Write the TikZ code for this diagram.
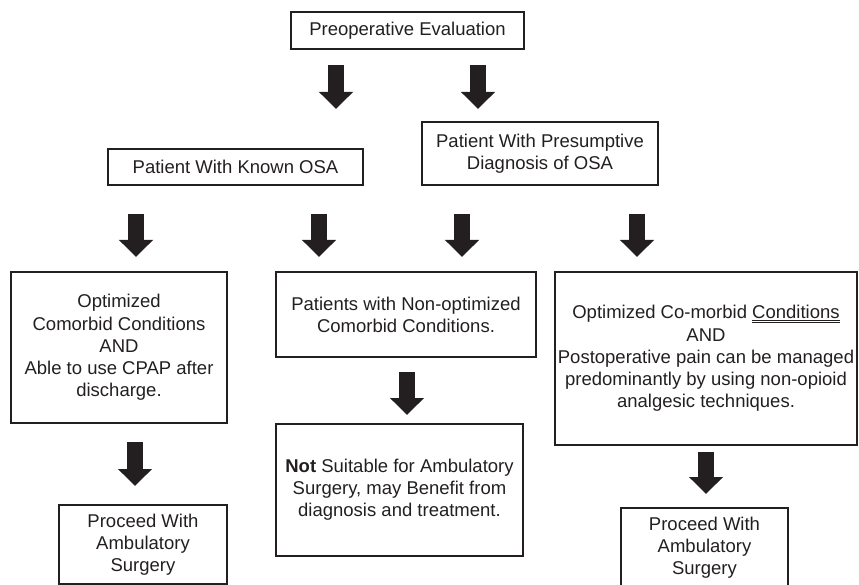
\documentclass[tikz,border=0pt]{standalone}
\usepackage{fontspec}
\setmainfont{Liberation Sans}
\usetikzlibrary{arrows.meta}
\definecolor{ink}{HTML}{231F20}
% double underline used for one word
\newcommand\dblunder[1]{\leavevmode\vtop{\hbox{#1}\kern1.2bp\hrule height .7bp\kern1.3bp\hrule height .7bp}}
\tikzset{
  flowbox/.style={draw=ink, line width=1.1bp, inner sep=0pt, align=center,
    text=ink, font=\fontsize{18.5bp}{22.2bp}\selectfont},
  blockarrow/.style={draw=ink, line width=16bp,
    -{Triangle[length=17bp, width=33bp]}},
}
\begin{document}
\begin{tikzpicture}[x=1bp, y=-1bp]
\useasboundingbox (0,0) rectangle (859,585);

% boxes
\node[flowbox, minimum width=233bp, minimum height=37bp] (pre) at (407.5,30.5) {Preoperative Evaluation};
\node[flowbox, minimum width=255bp, minimum height=36bp] (known) at (235.5,167) {Patient With Known OSA};
\node[flowbox, minimum width=236bp, minimum height=63bp] (pres) at (540,153.5) {Patient With Presumptive\\Diagnosis of OSA};
\node[flowbox, minimum width=216bp, minimum height=151bp] (opt) at (119,347.5) {Optimized\\Comorbid Conditions\\AND\\Able to use CPAP after\\discharge.};
\node[flowbox, minimum width=260bp, minimum height=85bp] (nonopt) at (406,314.5) {Patients with Non-optimized\\Comorbid Conditions.};
\node[flowbox, minimum width=302bp, minimum height=173bp] (comorb) at (706,358.5) {Optimized Co-morbid \dblunder{Conditions}\\AND\\Postoperative pain can be managed\\predominantly by using non-opioid\\analgesic techniques.};
\node[flowbox, minimum width=247bp, minimum height=132bp] (notsuit) at (399.5,490) {\textbf{Not} Suitable for Ambulatory\\Surgery, may Benefit from\\diagnosis and treatment.};
\node[flowbox, minimum width=168bp, minimum height=79bp] (procA) at (143,544.5) {Proceed With\\Ambulatory\\Surgery};
\node[flowbox, minimum width=167bp, minimum height=80bp] (procB) at (704.5,548) {Proceed With\\Ambulatory\\Surgery};

% arrow tails and tips
\coordinate (t1) at (336,65);  \coordinate (h1) at (336,109);
\coordinate (t2) at (478,65);  \coordinate (h2) at (478,109);
\coordinate (t3) at (136,214); \coordinate (h3) at (136,257);
\coordinate (t4) at (319,214); \coordinate (h4) at (319,257);
\coordinate (t5) at (462,214); \coordinate (h5) at (462,257);
\coordinate (t6) at (637,214); \coordinate (h6) at (637,257);
\coordinate (t7) at (407,372); \coordinate (h7) at (407,415);
\coordinate (t8) at (135,442); \coordinate (h8) at (135,486);
\coordinate (t9) at (706,452); \coordinate (h9) at (706,494);

% block arrows
\foreach \i in {1,...,9} \draw[blockarrow] (t\i) -- (h\i);
\end{tikzpicture}
\end{document}
